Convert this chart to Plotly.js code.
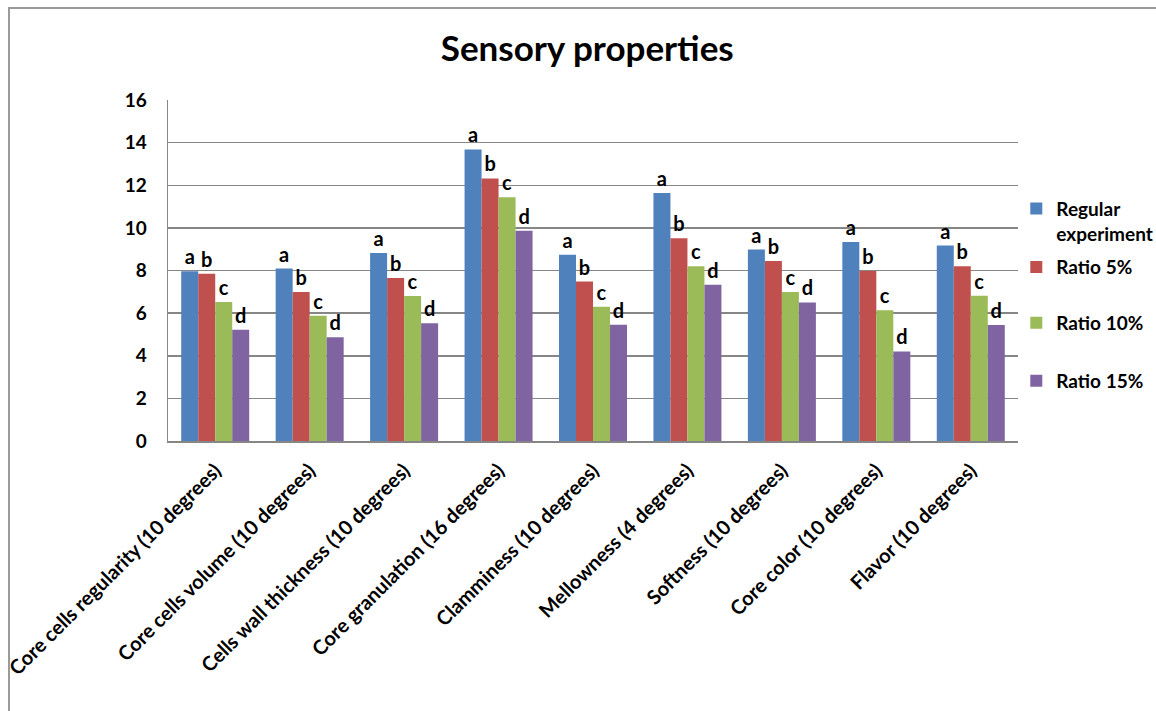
<!DOCTYPE html>
<html>
<head>
<meta charset="utf-8">
<script src="https://cdn.plot.ly/plotly-3.0.1.min.js"></script>
<style>
  body { margin: 0; background: #fff; }
  #wrap { position: relative; width: 1156px; height: 711px; overflow: hidden; }
  #chart { position: absolute; left: 0; top: 0; width: 1156px; height: 711px; }
  #frame { position: absolute; left: 8px; top: 7px; width: 1200px; height: 800px;
           border-left: 2px solid #9a9a9a; border-top: 2px solid #9a9a9a; pointer-events: none; }
</style>
</head>
<body>
<div id="wrap"><div id="chart"></div><div id="frame"></div></div>
<script>
const categories = [
  "Core cells regularity (10 degrees)",
  "Core cells volume (10 degrees)",
  "Cells wall thickness (10 degrees)",
  "Core granulation (16 degrees)",
  "Clamminess (10 degrees)",
  "Mellowness (4 degrees)",
  "Softness (10 degrees)",
  "Core color (10 degrees)",
  "Flavor (10 degrees)"
];
const seriesNames = ["Regular<br>experiment", "Ratio 5%", "Ratio 10%", "Ratio 15%"];
const regular = [7.96, 8.09, 8.82, 13.68, 8.74, 11.64, 8.98, 9.34, 9.17];
const ratio5  = [7.85, 6.99, 7.65, 12.32, 7.48, 9.51, 8.45, 7.98, 8.20];
const ratio10 = [6.52, 5.88, 6.80, 11.44, 6.30, 8.20, 6.99, 6.13, 6.82];
const ratio15 = [5.22, 4.87, 5.52, 9.87, 5.45, 7.33, 6.50, 4.20, 5.44];
const letters = ["a", "b", "c", "d"];
const colors = ["#4F81BD", "#C0504D", "#9BBB59", "#8064A2"];

const FONT = "Lato, 'Open Sans', sans-serif";
const legendIds = ["legend", "legend2", "legend3", "legend4"];
const legendY = [0.645, 0.510, 0.346, 0.176];
const allSeries = [regular, ratio5, ratio10, ratio15];
const traces = allSeries.map((vals, i) => ({
  type: "bar",
  name: seriesNames[i],
  x: categories,
  y: vals,
  text: vals.map(() => letters[i]),
  textposition: "outside",
  textfont: { family: FONT, size: 20, color: "#000", weight: "bold" },
  cliponaxis: false,
  marker: { color: colors[i], line: { width: 0 } },
  legend: legendIds[i],
  hoverinfo: "x+y+name"
}));

const layout = {
  width: 1156, height: 711,
  margin: { l: 168, r: 138, t: 100, b: 270, autoexpand: false },
  paper_bgcolor: "#fff", plot_bgcolor: "#fff",
  title: { text: "Sensory properties", x: 0.508, xanchor: "center", y: 0.932, yanchor: "middle",
           font: { family: FONT, size: 35, color: "#000", weight: "bold" } },
  bargap: 0.28, bargroupgap: 0,
  xaxis: {
    type: "category",
    tickangle: -45,
    tickfont: { family: FONT, size: 20, color: "#000", weight: "bold" },
    showline: true, linecolor: "#868686", linewidth: 2,
    ticks: "", ticklabelstandoff: 8, showgrid: false
  },
  yaxis: {
    range: [0, 16], dtick: 2,
    tickfont: { family: FONT, size: 19, color: "#000", weight: "bold" },
    showgrid: true, gridcolor: "#868686", gridwidth: 1.5,
    showline: true, linecolor: "#868686", linewidth: 1.5,
    zeroline: false, ticks: "", ticklabelstandoff: 16
  },
  showlegend: true
};
legendIds.forEach((id, i) => {
  layout[id] = {
    x: 0.998, xanchor: "left", y: legendY[i], yanchor: "middle",
    font: { family: FONT, size: 19, color: "#000", weight: "bold" },
    valign: "top", itemwidth: 30, bgcolor: "rgba(0,0,0,0)"
  };
});

Plotly.newPlot("chart", traces, layout, { displayModeBar: false, staticPlot: true });
</script>
</body>
</html>
